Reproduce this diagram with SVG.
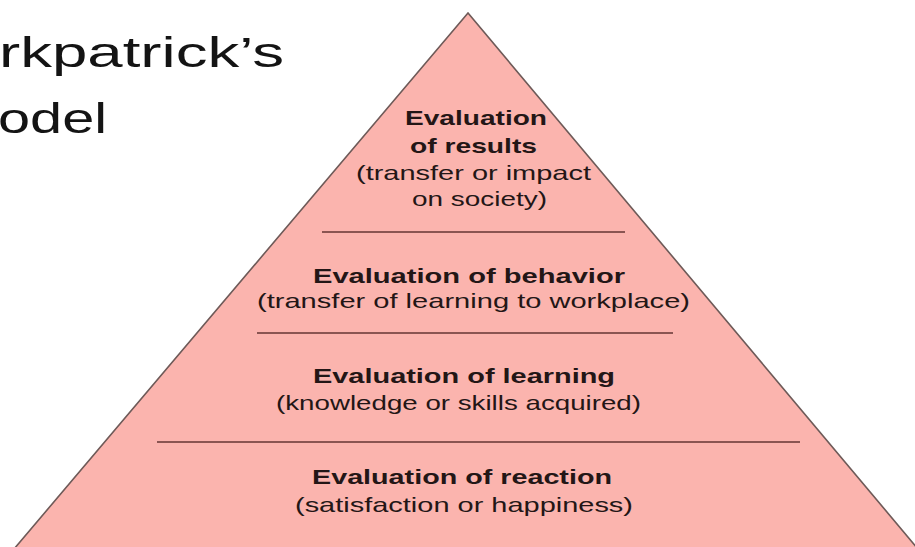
<svg xmlns="http://www.w3.org/2000/svg" width="915" height="547" viewBox="0 0 915 547">
  <style>
    .title { font-family: "Liberation Sans", Arial, sans-serif; font-size: 43px; fill: #141414; }
    .head { font-family: "Liberation Sans", Arial, sans-serif; font-size: 21px; font-weight: bold; fill: #231616; }
    .sub { font-family: "Liberation Sans", Arial, sans-serif; font-size: 21px; fill: #231616; }
    .divider { stroke: #8a5552; stroke-width: 2; }
  </style>
  <rect width="915" height="547" fill="#ffffff"/>

  <!-- heading, partly cut by the left edge -->
  <g id="title">
    <text class="title" x="-1" y="67" textLength="285" lengthAdjust="spacingAndGlyphs">rkpatrick’s</text>
    <text class="title" x="-2" y="133" textLength="109" lengthAdjust="spacingAndGlyphs">odel</text>
  </g>

  <!-- pyramid body -->
  <g id="pyramid">
    <polygon points="468,13 14,549 918,549" fill="#fbb4ae" stroke="#6e5a58" stroke-width="1.6" stroke-linejoin="miter"/>
  </g>

  <!-- separators between the tiers -->
  <g id="dividers">
    <line class="divider" x1="322" y1="232" x2="625" y2="232"/>
    <line class="divider" x1="257" y1="333" x2="673" y2="333"/>
    <line class="divider" x1="157" y1="442" x2="800" y2="442"/>
  </g>

  <g id="tier-results">
    <text class="head" x="405" y="125" textLength="142" lengthAdjust="spacingAndGlyphs">Evaluation</text>
    <text class="head" x="410" y="153" textLength="127" lengthAdjust="spacingAndGlyphs">of results</text>
    <text class="sub" x="356" y="180" textLength="235" lengthAdjust="spacingAndGlyphs">(transfer or impact</text>
    <text class="sub" x="412" y="206" textLength="135" lengthAdjust="spacingAndGlyphs">on society)</text>
  </g>

  <g id="tier-behavior">
    <text class="head" x="313" y="283" textLength="312" lengthAdjust="spacingAndGlyphs">Evaluation of behavior</text>
    <text class="sub" x="257" y="308" textLength="433" lengthAdjust="spacingAndGlyphs">(transfer of learning to workplace)</text>
  </g>

  <g id="tier-learning">
    <text class="head" x="313" y="383" textLength="302" lengthAdjust="spacingAndGlyphs">Evaluation of learning</text>
    <text class="sub" x="276" y="410" textLength="365" lengthAdjust="spacingAndGlyphs">(knowledge or skills acquired)</text>
  </g>

  <g id="tier-reaction">
    <text class="head" x="312" y="484" textLength="300" lengthAdjust="spacingAndGlyphs">Evaluation of reaction</text>
    <text class="sub" x="295" y="512" textLength="338" lengthAdjust="spacingAndGlyphs">(satisfaction or happiness)</text>
  </g>
</svg>
